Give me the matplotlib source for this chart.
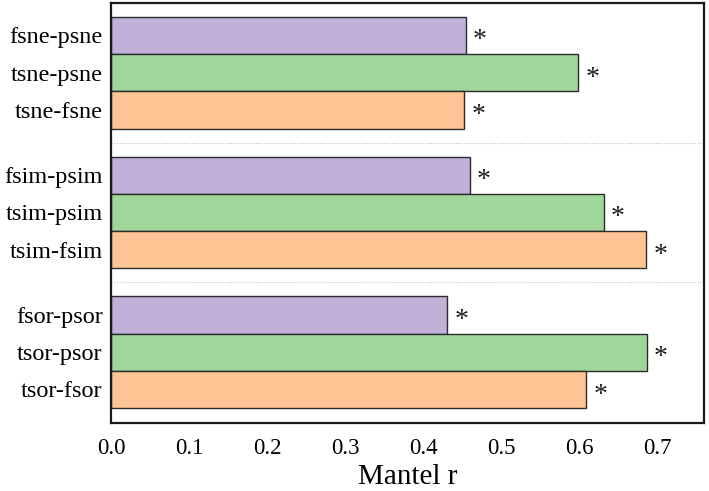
import matplotlib.pyplot as plt

# --- Data ---
labels = ["fsne-psne", "tsne-psne", "tsne-fsne",
          "fsim-psim", "tsim-psim", "tsim-fsim",
          "fsor-psor", "tsor-psor", "tsor-fsor"]
mantel_r = [0.455, 0.599, 0.453,
            0.460, 0.632, 0.686,
            0.431, 0.687, 0.609]
signif = ["*"] * 9
group_of = [0, 0, 0, 1, 1, 1, 2, 2, 2]

# --- Style ---
plt.rcParams['font.family'] = ['Liberation Serif', 'DejaVu Serif']
colors = ["#c1b0d8", "#a1d69b", "#fdc593"]
gap = 0.75
ypos = [i + g * gap for i, g in enumerate(group_of)]

fig = plt.figure(figsize=(7.09, 4.91), dpi=100)
ax = fig.add_axes([0.1566, 0.1385, 0.8364, 0.8554])

ax.barh(ypos, mantel_r, height=1.0,
        color=[colors[i % 3] for i in range(len(labels))],
        edgecolor="#2b2b2b", linewidth=1.0)

for y, v, s in zip(ypos, mantel_r, signif):
    ax.annotate(s, (v, y), xytext=(10, -4), textcoords="offset points",
                ha="center", va="center", fontsize=20, color="#1a1a1a")

# dotted separators between groups
for g in (1, 2):
    ysep = ypos[3 * g] - 0.5 - gap / 2
    ax.axhline(ysep, color="#c4c4c4", linestyle=(0, (1, 1.5)), linewidth=0.8)

ax.set_yticks(ypos)
ax.set_yticklabels(labels)
ax.set_xticks([0.0, 0.1, 0.2, 0.3, 0.4, 0.5, 0.6, 0.7])
ax.set_xlim(0, 0.76)
ax.set_ylim(ypos[-1] + 0.5 + 0.4, ypos[0] - 0.5 - 0.37)
ax.tick_params(axis="y", length=0, labelsize=17.5, pad=6)
ax.tick_params(axis="x", length=0, labelsize=16.5, pad=11)
ax.set_xlabel("Mantel r", fontsize=21, labelpad=3.5)
for sp in ax.spines.values():
    sp.set_linewidth(1.6)
    sp.set_color("#1a1a1a")

plt.savefig("out.png", dpi=100)
